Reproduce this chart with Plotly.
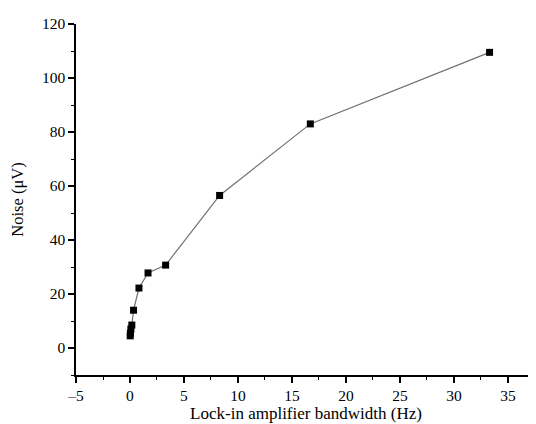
import plotly.graph_objects as go

bandwidth_hz = [0.02, 0.04, 0.083, 0.17, 0.33, 0.83, 1.67, 3.3, 8.3, 16.7, 33.3]
noise_uv = [4.5, 5.5, 7.0, 8.5, 14.0, 22.2, 27.8, 30.7, 56.5, 83.0, 109.5]

x_ticks = [-5, 0, 5, 10, 15, 20, 25, 30, 35]
y_ticks = [0, 20, 40, 60, 80, 100, 120]

font = "Liberation Serif, Times New Roman, serif"

fig = go.Figure()
fig.add_trace(go.Scatter(
    x=bandwidth_hz, y=noise_uv, mode="lines+markers",
    line=dict(color="#707070", width=1.2),
    marker=dict(symbol="square", size=7, color="black"),
    showlegend=False,
))

axis_common = dict(
    showgrid=False, zeroline=False, showline=True, linecolor="black", linewidth=1.5,
    ticks="outside", ticklen=6, tickwidth=1.5, tickcolor="black",
    tickfont=dict(family=font, size=15.5, color="black"),
    automargin=False,
)

fig.update_xaxes(
    range=[-5, 37.6], tickvals=x_ticks, ticktext=["\u20135"] + [str(v) for v in x_ticks[1:]],
    minor=dict(dtick=2.5, tick0=0, ticks="outside", ticklen=3, tickwidth=1.2, tickcolor="black"),
    title=dict(text="Lock-in amplifier bandwidth (Hz)", font=dict(family=font, size=17, color="black"), standoff=2),
    **axis_common,
)
fig.update_yaxes(
    range=[-10, 120], tickvals=y_ticks,
    minor=dict(dtick=10, tick0=0, ticks="outside", ticklen=3, tickwidth=1.2, tickcolor="black"),
    title=dict(text="Noise (\u03bcV)", font=dict(family=font, size=16.5, color="black"), standoff=16),
    **axis_common,
)

fig.update_layout(
    width=536, height=424,
    margin=dict(l=68, r=8, t=16, b=57),
    plot_bgcolor="white", paper_bgcolor="white",
)

fig.write_html("out.html")
